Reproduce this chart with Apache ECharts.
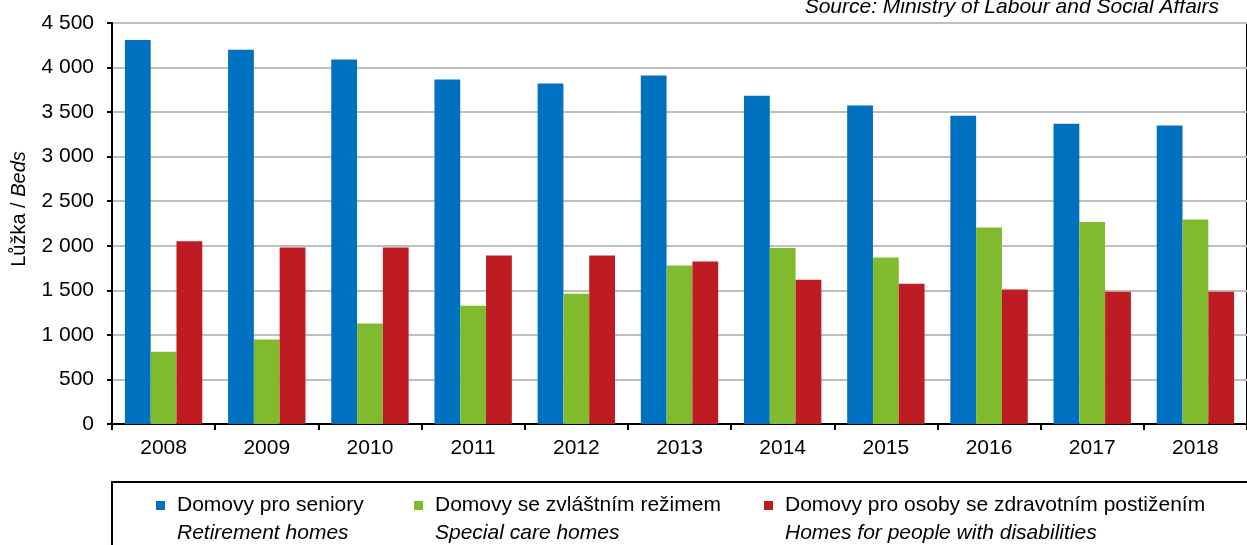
<!DOCTYPE html>
<html>
<head>
<meta charset="utf-8">
<script src="https://cdn.jsdelivr.net/npm/echarts@6/dist/echarts.min.js"></script>
<style>
  html, body { margin: 0; padding: 0; background: #fff; }
  #chart { width: 1247px; height: 545px; }
</style>
</head>
<body>
<div id="chart"></div>
<script>
// Beds in social care homes, 2008–2018
const years = ['2008', '2009', '2010', '2011', '2012', '2013', '2014', '2015', '2016', '2017', '2018'];
const retirementHomes = [4310, 4200, 4090, 3865, 3820, 3910, 3685, 3575, 3460, 3370, 3350];
const specialCareHomes = [812, 948, 1128, 1327, 1463, 1778, 1976, 1868, 2205, 2268, 2295];
const disabilityHomes = [2050, 1980, 1980, 1890, 1890, 1823, 1620, 1575, 1508, 1485, 1485];

const namesCz = ['Domovy pro seniory', 'Domovy se zvláštním režimem', 'Domovy pro osoby se zdravotním postižením'];
const namesEn = ['Retirement homes', 'Special care homes', 'Homes for people with disabilities'];
const colors = ['#0070C0', '#80BB2E', '#BE1B23'];

const FONT = '"Liberation Sans", Arial, sans-serif';
const FS = 21;

function thousands(v) {
  return String(v).replace(/\B(?=(\d{3})+(?!\d))/g, ' ');
}

// fixed column widths so the three legend entries sit in columns
const legendRich = (italic) => {
  const base = { fontFamily: FONT, fontSize: FS, fontStyle: italic ? 'italic' : 'normal', color: '#000', padding: [0, 0, 0, 7], lineHeight: 22 };
  return {
    t0: Object.assign({ width: 237 }, base),
    t1: Object.assign({ width: 329 }, base),
    t2: Object.assign({ width: 440 }, base)
  };
};

const chart = echarts.init(document.getElementById('chart'), null, { renderer: 'canvas' });

const option = {
  backgroundColor: '#fff',
  animation: false,
  grid: {
    left: 112, top: 23, right: -8, bottom: 121,
    show: true, borderColor: '#000', borderWidth: 2, backgroundColor: 'transparent'
  },
  legend: [
    {
      data: namesCz, left: 156, top: 495, orient: 'horizontal', padding: 0,
      icon: 'rect', itemWidth: 9, itemHeight: 9, itemGap: 0, selectedMode: false,
      formatter: (name) => '{t' + namesCz.indexOf(name) + '|' + name + '}',
      textStyle: { rich: legendRich(false) }
    },
    {
      data: namesCz, left: 156, top: 523, orient: 'horizontal', padding: 0,
      icon: 'none', itemWidth: 9, itemHeight: 9, itemGap: 0, selectedMode: false,
      formatter: (name) => { const i = namesCz.indexOf(name); return '{t' + i + '|' + namesEn[i] + '}'; },
      textStyle: { rich: legendRich(true) }
    }
  ],
  xAxis: {
    type: 'category',
    data: years,
    axisLine: { lineStyle: { color: '#000', width: 2 } },
    axisTick: { show: true, length: 6, inside: false, alignWithLabel: false, lineStyle: { color: '#000', width: 2 } },
    axisLabel: { color: '#000', fontFamily: FONT, fontSize: FS, margin: 14 },
    splitLine: { show: false }
  },
  yAxis: {
    type: 'value',
    min: 0, max: 4500, interval: 500,
    axisLine: { show: true, lineStyle: { color: '#000', width: 2 } },
    axisTick: { show: true, length: 5, inside: false, lineStyle: { color: '#000', width: 2 } },
    axisLabel: { color: '#000', fontFamily: FONT, fontSize: FS, margin: 18, formatter: thousands },
    splitLine: { show: true, lineStyle: { color: '#bfbfbf', width: 2 } }
  },
  series: [
    { name: namesCz[0], type: 'bar', data: retirementHomes, itemStyle: { color: colors[0] }, barGap: '0%', barCategoryGap: '25%' },
    { name: namesCz[1], type: 'bar', data: specialCareHomes, itemStyle: { color: colors[1] }, barGap: '0%', barCategoryGap: '25%' },
    { name: namesCz[2], type: 'bar', data: disabilityHomes, itemStyle: { color: colors[2] }, barGap: '0%', barCategoryGap: '25%' }
  ],
  graphic: [
    {
      type: 'text', x: 19, y: 209, rotation: Math.PI / 2,
      style: {
        text: '{n|Lůžka / }{i|Beds}',
        align: 'center', verticalAlign: 'middle',
        rich: {
          n: { fontFamily: FONT, fontSize: 20, fill: '#000', color: '#000' },
          i: { fontFamily: FONT, fontSize: 20, fontStyle: 'italic', fill: '#000', color: '#000' }
        }
      }
    },
    {
      type: 'text', x: 1219, y: 7,
      style: {
        text: 'Source: Ministry of Labour and Social Affairs',
        align: 'right', verticalAlign: 'middle',
        fontFamily: FONT, fontSize: FS, fontStyle: 'italic', fill: '#000'
      }
    },
    {
      type: 'rect',
      shape: { x: 112, y: 482, width: 1200, height: 120 },
      style: { fill: 'none', stroke: '#000', lineWidth: 2 }
    }
  ]
};

chart.setOption(option);
</script>
</body>
</html>
